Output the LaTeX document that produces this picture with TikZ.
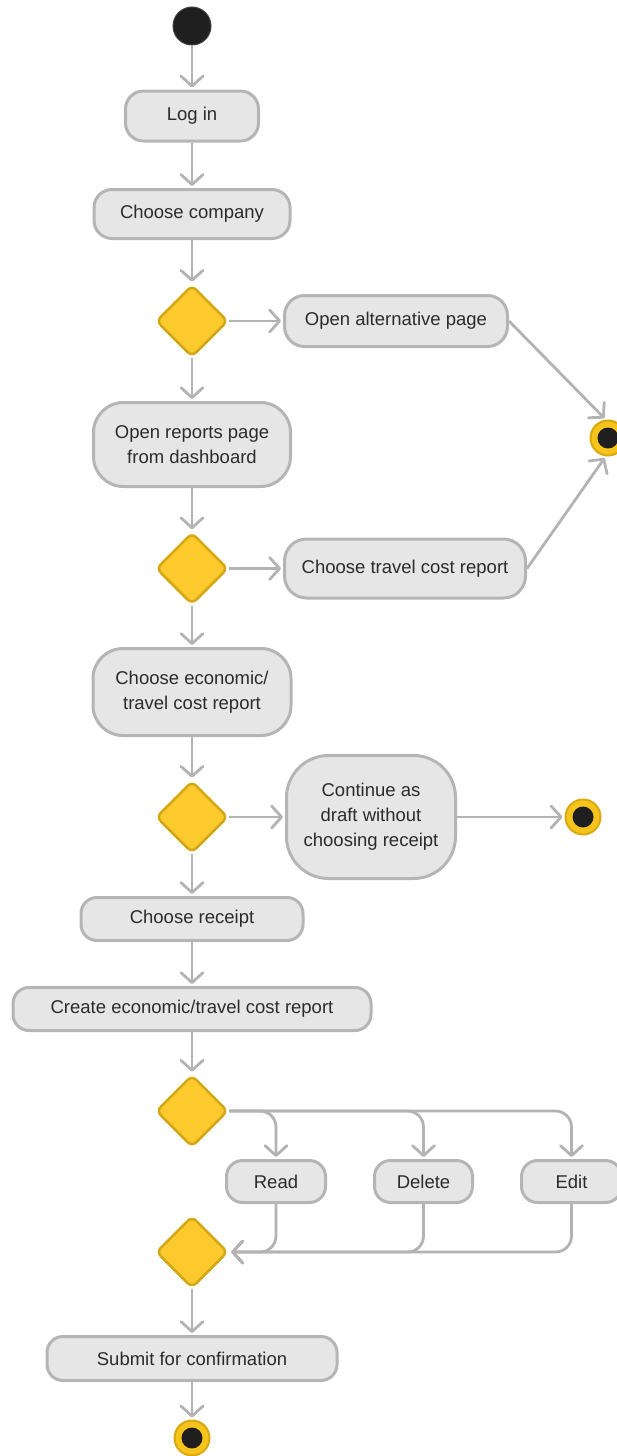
\documentclass[tikz,border=0pt]{standalone}
\usepackage{fontspec}
\usetikzlibrary{shapes.geometric,arrows.meta}
\newfontfamily\uifont{Liberation Sans}
\definecolor{boxfill}{HTML}{E6E6E6}
\definecolor{boxline}{HTML}{B5B5B5}
\definecolor{flowline}{HTML}{B3B3B3}
\definecolor{txt}{HTML}{2B2B2B}
\definecolor{decfill}{HTML}{FCCA2C}
\definecolor{decline}{HTML}{D4A716}
\definecolor{ringfill}{HTML}{F7C41C}
\definecolor{ringline}{HTML}{D9A912}
\definecolor{dot}{HTML}{1F1F1F}
\begin{document}
\begin{tikzpicture}[x=1pt,y=-1pt,
  act/.style={draw=boxline, fill=boxfill, line width=3pt, inner sep=0pt,
    font=\uifont\fontsize{18.5}{25}\selectfont, text=txt, align=center,
    rounded corners=18pt},
  decision/.style={diamond, draw=decline, fill=decfill, line width=2.5pt,
    minimum size=72pt, inner sep=0pt, rounded corners=6pt},
  startstate/.style={circle, fill=dot, draw=dot!85!white, line width=1pt,
    minimum size=38pt, inner sep=0pt},
  endstate/.style={circle, fill=ringfill, draw=ringline, line width=2pt,
    minimum size=35pt, inner sep=0pt,
    path picture={\fill[dot] (path picture bounding box.center) circle (10.5pt);}},
  flow/.style={draw=flowline, line width=2.8pt, shorten >=2pt,
    -{Straight Barb[round,length=10pt,width=22pt]}},
  branch/.style={flow, rounded corners=16pt}]

\useasboundingbox (0,0) rectangle (616,1456);

% main column
\node[startstate] (start) at (192,26) {};
\node[act, minimum width=133pt, minimum height=50pt] (login) at (192,116) {Log in};
\node[act, minimum width=196pt, minimum height=49pt] (company) at (192,214) {Choose company};
\node[decision] (d1) at (192,321) {};
\node[act, minimum width=223pt, minimum height=51pt, rounded corners=20pt] (alt) at (396,321) {Open alternative page};
\node[endstate] (endA) at (608,438) {};
\node[act, minimum width=197pt, minimum height=84pt, rounded corners=30pt] (reports) at (192,444.5) {Open reports page\\from dashboard};
\node[decision] (d2) at (192,568.5) {};
\node[act, minimum width=241pt, minimum height=59pt, rounded corners=22pt] (travel) at (405,568.5) {Choose travel cost report};
\node[act, minimum width=198pt, minimum height=87pt, rounded corners=30pt] (econ) at (192,692) {Choose economic/\\travel cost report};
\node[decision] (d3) at (192,817) {};
\node[act, minimum width=169pt, minimum height=123pt, rounded corners=42pt] (cont) at (371,817) {Continue as\\draft without\\choosing receipt};
\node[endstate] (endB) at (583,817) {};
\node[act, minimum width=222pt, minimum height=43pt, rounded corners=16pt] (receipt) at (192,919) {Choose receipt};
\node[act, minimum width=358pt, minimum height=43pt, rounded corners=16pt] (create) at (192,1009) {Create economic/travel cost report};
\node[decision] (d4) at (192,1111) {};
\node[act, minimum width=99pt, minimum height=42pt, rounded corners=16pt] (read) at (276,1181.5) {Read};
\node[act, minimum width=98pt, minimum height=42pt, rounded corners=16pt] (delete) at (423.5,1181.5) {Delete};
\node[act, minimum width=100pt, minimum height=42pt, rounded corners=16pt] (edit) at (571.5,1181.5) {Edit};
\node[decision] (d5) at (192,1252) {};
\node[act, minimum width=290pt, minimum height=44pt, rounded corners=16pt] (submit) at (192,1358.5) {Submit for confirmation};
\node[endstate] (endC) at (192,1438) {};

% straight flow
\draw[flow] (start) -- (login);
\draw[flow] (login) -- (company);
\draw[flow] (company) -- (d1);
\draw[flow] (d1) -- (alt);
\draw[flow] (d1) -- (reports);
\draw[flow] (alt.east) -- (endA.97);
\draw[flow] (travel.east) -- (endA.263);
\draw[flow] (reports) -- (d2);
\draw[flow] (d2) -- (travel);
\draw[flow] (d2) -- (econ);
\draw[flow] (econ) -- (d3);
\draw[flow] (d3) -- (cont);
\draw[flow] (cont) -- (endB);
\draw[flow] (d3) -- (receipt);
\draw[flow] (receipt) -- (create);
\draw[flow] (create) -- (d4);

% fork into the three actions and merge back
\draw[branch] (d4.east) -| (edit.north);
\draw[branch] (d4.east) -| (delete.north);
\draw[branch] (d4.east) -| (read.north);
\draw[branch] (edit.south) |- (d5.east);
\draw[branch] (delete.south) |- (d5.east);
\draw[branch] (read.south) |- (d5.east);

\draw[flow] (d5) -- (submit);
\draw[flow] (submit) -- (endC);
\end{tikzpicture}
\end{document}
